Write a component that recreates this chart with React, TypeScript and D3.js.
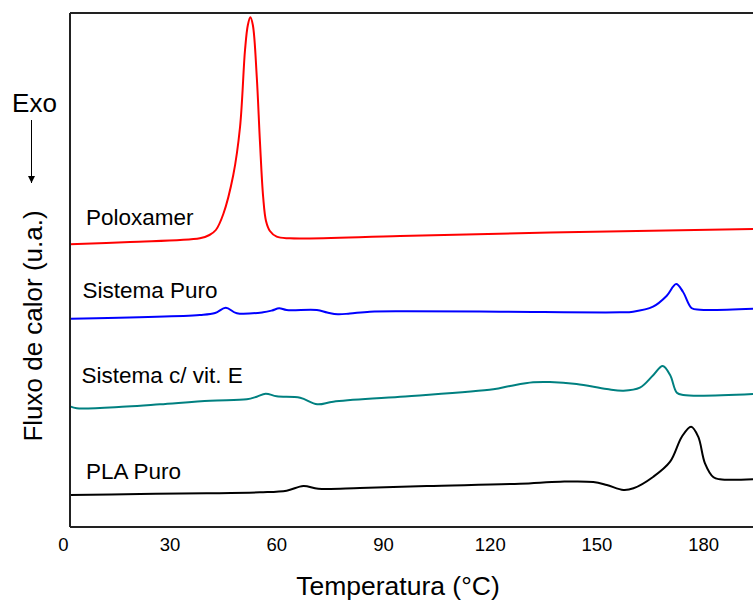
import React, { useEffect, useRef } from "react";
import * as d3 from "d3";

// Temperatures (°C) and heat flow (arbitrary units)
const poloxamerT = [2, 18.9, 38.5, 41.2, 43.0, 45.1, 47.9, 49.8, 51.2, 52.0, 52.7, 53.4, 54.5, 55.4, 56.3, 57.1, 58.2, 60.1, 63.8, 94.8, 137, 194];
const poloxamerV = [282.7, 285, 288.7, 292, 297, 313, 352, 400, 477, 502, 509.7, 502, 450.3, 385, 330, 306, 296, 290.3, 288.7, 291, 294.5, 298];

const sistemaPuroT = [2.2, 38.5, 42.8, 45.8, 48.9, 56.3, 58.8, 60.8, 62.9, 71.4, 74.3, 77.3, 80.7, 86.3, 96.7, 122.9, 156.6, 160.3, 165.9, 169.7, 172.4, 174.3, 176.8, 179.1, 194];
const sistemaPuroV = [208.3, 212, 214, 219.3, 213.7, 214.7, 216.5, 218.7, 217, 217, 214.5, 212.7, 213.5, 215.3, 215.7, 215.3, 214.7, 215.3, 220.3, 231, 243, 235.3, 218.7, 217.3, 218.3];

const vitET = [2.2, 3.9, 17.9, 27.3, 41.4, 51.7, 54.5, 57.0, 60.1, 66.7, 71.5, 76.0, 94.8, 121, 125.7, 132.2, 136.9, 144.4, 152.9, 157.6, 162.2, 166, 168.6, 170.7, 172.6, 174.4, 194];
const vitEV = [120.3, 118.7, 120.5, 122.7, 126.3, 127.7, 130.3, 133.3, 130.7, 129.3, 122.7, 125.3, 130.3, 137.7, 141, 144.7, 145, 143, 138, 136.3, 139.3, 152, 161, 152, 134.3, 132, 133];

const plaT = [2.0, 21.7, 40.4, 55.4, 62.9, 67.6, 71.8, 83.5, 102.3, 128.5, 139.8, 149.1, 152.9, 157.6, 160.4, 166, 170.7, 174, 176.6, 178.6, 180.5, 182.9, 184.7, 194];
const plaV = [32, 33, 33.7, 34.7, 36.3, 41, 38.3, 39, 41, 43.3, 45.3, 45, 42, 37, 38.7, 50.3, 65.3, 90.3, 100.3, 90.3, 63.7, 49.7, 47.7, 47.7];

const seriesNames = ["Poloxamer", "Sistema Puro", "Sistema c/ vit. E", "PLA Puro"];
const seriesColors = ["#ff0000", "#0000ff", "#008080", "#000000"];
const xTicks = [0, 30, 60, 90, 120, 150, 180];

const W = 753;
const H = 602;
const M = { left: 70, right: 0, top: 13, bottom: 75 };
const FONT = "'Liberation Sans', Arial, sans-serif";

export default function App() {
  const axisRef = useRef<SVGGElement>(null);

  const x = d3.scaleLinear().domain([2, 194]).range([M.left, W - M.right]);
  const y = d3.scaleLinear().domain([0, 514]).range([H - M.bottom, M.top]);

  const series = [
    { T: poloxamerT, V: poloxamerV },
    { T: sistemaPuroT, V: sistemaPuroV },
    { T: vitET, V: vitEV },
    { T: plaT, V: plaV },
  ];

  const line = d3
    .line<[number, number]>()
    .x((d) => x(d[0]))
    .y((d) => y(d[1]))
    .curve(d3.curveCatmullRom.alpha(0.5));

  useEffect(() => {
    if (!axisRef.current) return;
    const g = d3.select(axisRef.current);
    g.selectAll("*").remove();
    g.call(
      d3
        .axisBottom(x)
        .tickValues(xTicks)
        .tickSize(0)
        .tickPadding(11)
        .tickFormat((d) => String(d))
    );
    g.select(".domain").remove();
    g.selectAll("text")
      .attr("font-size", 18.5)
      .attr("font-family", FONT)
      .attr("fill", "#000");
  }, []);

  const labelPos = [
    { x: 86, y: 225 },
    { x: 82.5, y: 298 },
    { x: 81.5, y: 383 },
    { x: 86, y: 479 },
  ];

  return (
    <svg
      width={W}
      height={H}
      style={{ position: "absolute", left: 0, top: 0, background: "#fff" }}
    >
      <rect x={0} y={0} width={W} height={H} fill="#fff" />
      {series.map((s, i) => (
        <path
          key={i}
          d={line(s.T.map((t, j) => [t, s.V[j]] as [number, number])) || ""}
          fill="none"
          stroke={seriesColors[i]}
          strokeWidth={2}
          strokeLinejoin="round"
        />
      ))}
      {/* frame */}
      <line x1={M.left} x2={W} y1={M.top} y2={M.top} stroke="#222" strokeWidth={2} />
      <line x1={M.left} x2={M.left} y1={M.top} y2={H - M.bottom} stroke="#222" strokeWidth={2} />
      <line x1={M.left} x2={W} y1={H - M.bottom} y2={H - M.bottom} stroke="#222" strokeWidth={2} />
      <g ref={axisRef} transform={`translate(0,${H - M.bottom})`} />

      {seriesNames.map((n, i) => (
        <text
          key={n}
          x={labelPos[i].x}
          y={labelPos[i].y}
          fontFamily={FONT}
          fontSize={22.5}
          fill="#000"
        >
          {n}
        </text>
      ))}

      <text x={398} y={595} textAnchor="middle" fontFamily={FONT} fontSize={26.5} fill="#000">
        Temperatura (°C)
      </text>
      <text
        transform="translate(42,326) rotate(-90)"
        textAnchor="middle"
        fontFamily={FONT}
        fontSize={26}
        fill="#000"
      >
        Fluxo de calor (u.a.)
      </text>
      <text x={34.5} y={112} textAnchor="middle" fontFamily={FONT} fontSize={26} fill="#000">
        Exo
      </text>
      <defs>
        <marker id="arr" viewBox="0 0 10 10" refX={10} refY={5} markerWidth={7} markerHeight={9} orient="auto" markerUnits="userSpaceOnUse">
          <path d="M0,0 L10,5 L0,10 z" fill="#000" />
        </marker>
      </defs>
      <line x1={31.5} x2={31.5} y1={120} y2={183} stroke="#000" strokeWidth={1} markerEnd="url(#arr)" />
    </svg>
  );
}
